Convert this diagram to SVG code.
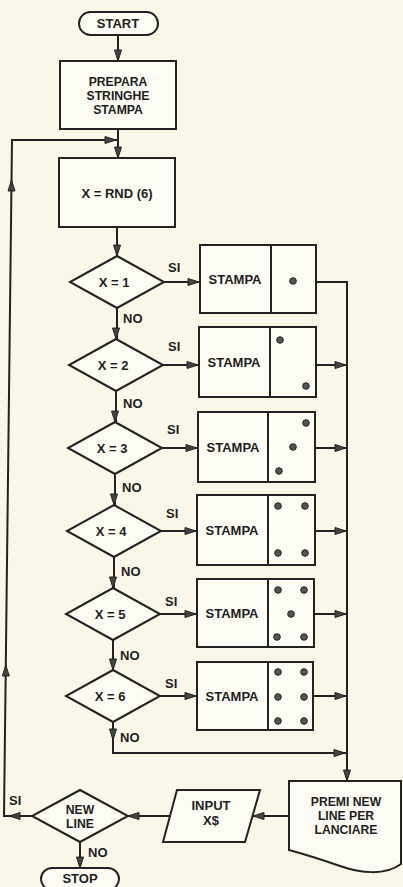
<svg xmlns="http://www.w3.org/2000/svg" xmlns:xlink="http://www.w3.org/1999/xlink" width="403" height="887" viewBox="0 0 403 887">
<style>
.s{fill:none;stroke:#222;stroke-width:2;stroke-linejoin:miter}
.n{fill:#fdfcf4;stroke:#222;stroke-width:2}
.t{font-family:"Liberation Sans",Arial,sans-serif;font-weight:bold;font-size:13px;fill:#1e1e1e;text-anchor:middle}
.m{font-size:12.2px}
.l{font-family:"Liberation Sans",Arial,sans-serif;font-weight:bold;font-size:13px;fill:#1e1e1e}
.d{fill:#555;stroke:#222;stroke-width:1}
</style>
<defs>
<path id="ah" d="M0,0 L-11,-3.5 L-11,3.5 Z" fill="#444" stroke="#222" stroke-width="1"/>
</defs>
<rect width="403" height="887" fill="#faf7e8"/>
<g id="connectors">
<path class="s" d="M118,35 V61 M118,129 V158 M117,227 V256"/>
<path class="s" d="M32,816 H4 L12,140 H117"/>
<path class="s" d="M117,308 V339 M116,391 V422 M115,474 V505 M114,557 V588 M113,640 V670"/>
<path class="s" d="M164,282 H200 M163,365 H199 M162,448 H198 M161,531 H197 M160,614 H197 M160,696 H197"/>
<path class="s" d="M316,282 H347 V781 M316,365 H347 M315,448 H347 M315,531 H347 M314,614 H347 M313,696 H347"/>
<path class="s" d="M113,722 V753 H347"/>
<path class="s" d="M289,816 H253 M170,816 H128 M80,842 V868"/>
<use xlink:href="#ah" transform="translate(118,61) rotate(90)"/>
<use xlink:href="#ah" transform="translate(118,158) rotate(90)"/>
<use xlink:href="#ah" transform="translate(116,140)"/>
<use xlink:href="#ah" transform="translate(11.5,180) rotate(-90)"/>
<use xlink:href="#ah" transform="translate(5.8,665) rotate(-90)"/>
<use xlink:href="#ah" transform="translate(9,816) rotate(180)"/>
<use xlink:href="#ah" transform="translate(117,256) rotate(90)"/>
<use xlink:href="#ah" transform="translate(116,339) rotate(90)"/>
<use xlink:href="#ah" transform="translate(115,422) rotate(90)"/>
<use xlink:href="#ah" transform="translate(114,505) rotate(90)"/>
<use xlink:href="#ah" transform="translate(113,588) rotate(90)"/>
<use xlink:href="#ah" transform="translate(113,670) rotate(90)"/>
<use xlink:href="#ah" transform="translate(199,282)"/>
<use xlink:href="#ah" transform="translate(198,365)"/>
<use xlink:href="#ah" transform="translate(197,448)"/>
<use xlink:href="#ah" transform="translate(196,531)"/>
<use xlink:href="#ah" transform="translate(196,614)"/>
<use xlink:href="#ah" transform="translate(196,696)"/>
<use xlink:href="#ah" transform="translate(346,365)"/>
<use xlink:href="#ah" transform="translate(346,448)"/>
<use xlink:href="#ah" transform="translate(346,531)"/>
<use xlink:href="#ah" transform="translate(346,614)"/>
<use xlink:href="#ah" transform="translate(346,696)"/>
<use xlink:href="#ah" transform="translate(113,740) rotate(90)"/>
<use xlink:href="#ah" transform="translate(345,753)"/>
<use xlink:href="#ah" transform="translate(347,781) rotate(90)"/>
<use xlink:href="#ah" transform="translate(253,816) rotate(180)"/>
<use xlink:href="#ah" transform="translate(128,816) rotate(180)"/>
<use xlink:href="#ah" transform="translate(80,868) rotate(90)"/>
<text class="l" x="168" y="272">SI</text>
<text class="l" x="168" y="351">SI</text>
<text class="l" x="167" y="434">SI</text>
<text class="l" x="166" y="518">SI</text>
<text class="l" x="165" y="606">SI</text>
<text class="l" x="165" y="688">SI</text>
<text class="l" x="123" y="323">NO</text>
<text class="l" x="123" y="408">NO</text>
<text class="l" x="122" y="492">NO</text>
<text class="l" x="121" y="576">NO</text>
<text class="l" x="120" y="660">NO</text>
<text class="l" x="120" y="742">NO</text>
<text class="l" x="9" y="805">SI</text>
<text class="l" x="88" y="857">NO</text>
</g>
<g id="start">
<rect class="n" x="79" y="12" width="79" height="23" rx="11.5"/>
<text class="t" x="118" y="28">START</text>
</g>
<g id="prepara">
<rect class="n" x="60" y="61" width="116" height="68"/>
<text class="t m" x="118" y="86">PREPARA</text>
<text class="t m" x="118" y="100">STRINGHE</text>
<text class="t m" x="118" y="114">STAMPA</text>
</g>
<g id="rnd">
<rect class="n" x="59" y="158" width="116" height="69"/>
<text class="t" x="117" y="198">X = RND (6)</text>
</g>
<g id="d1">
<polygon class="n" points="117,256 164,282 117,308 70,282"/>
<text class="t" x="114" y="287">X = 1</text>
</g>
<g id="d2">
<polygon class="n" points="116,339 163,365 116,391 69,365"/>
<text class="t" x="113" y="370">X = 2</text>
</g>
<g id="d3">
<polygon class="n" points="115,422 162,448 115,474 68,448"/>
<text class="t" x="112" y="453">X = 3</text>
</g>
<g id="d4">
<polygon class="n" points="114,505 161,531 114,557 67,531"/>
<text class="t" x="111" y="536">X = 4</text>
</g>
<g id="d5">
<polygon class="n" points="113,588 160,614 113,640 66,614"/>
<text class="t" x="110" y="619">X = 5</text>
</g>
<g id="d6">
<polygon class="n" points="113,670 160,696 113,722 66,696"/>
<text class="t" x="110" y="701">X = 6</text>
</g>
<g id="b1">
<rect class="n" x="200" y="245" width="116" height="68"/>
<line class="s" x1="271" y1="245" x2="271" y2="313"/>
<text class="t" x="235" y="284">STAMPA</text>
<circle class="d" cx="293" cy="281" r="3.3"/>
</g>
<g id="b2">
<rect class="n" x="199" y="327" width="117" height="70"/>
<line class="s" x1="270" y1="327" x2="270" y2="397"/>
<text class="t" x="234" y="367">STAMPA</text>
<circle class="d" cx="280" cy="340" r="3.3"/>
<circle class="d" cx="306" cy="386" r="3.3"/>
</g>
<g id="b3">
<rect class="n" x="198" y="412" width="117" height="70"/>
<line class="s" x1="268" y1="412" x2="268" y2="482"/>
<text class="t" x="233" y="452">STAMPA</text>
<circle class="d" cx="306" cy="423" r="3.3"/>
<circle class="d" cx="293" cy="447" r="3.3"/>
<circle class="d" cx="279" cy="471" r="3.3"/>
</g>
<g id="b4">
<rect class="n" x="197" y="495" width="118" height="70"/>
<line class="s" x1="268" y1="495" x2="268" y2="565"/>
<text class="t" x="232" y="535">STAMPA</text>
<circle class="d" cx="278" cy="506" r="3.3"/>
<circle class="d" cx="305" cy="506" r="3.3"/>
<circle class="d" cx="278" cy="553" r="3.3"/>
<circle class="d" cx="305" cy="553" r="3.3"/>
</g>
<g id="b5">
<rect class="n" x="197" y="579" width="117" height="68"/>
<line class="s" x1="268" y1="579" x2="268" y2="647"/>
<text class="t" x="232" y="618">STAMPA</text>
<circle class="d" cx="278" cy="590" r="3.3"/>
<circle class="d" cx="304" cy="590" r="3.3"/>
<circle class="d" cx="291" cy="614" r="3.3"/>
<circle class="d" cx="277" cy="637" r="3.3"/>
<circle class="d" cx="304" cy="637" r="3.3"/>
</g>
<g id="b6">
<rect class="n" x="197" y="662" width="116" height="68"/>
<line class="s" x1="268" y1="662" x2="268" y2="730"/>
<text class="t" x="232" y="701">STAMPA</text>
<circle class="d" cx="278" cy="672" r="3.3"/>
<circle class="d" cx="304" cy="672" r="3.3"/>
<circle class="d" cx="278" cy="697" r="3.3"/>
<circle class="d" cx="304" cy="697" r="3.3"/>
<circle class="d" cx="278" cy="721" r="3.3"/>
<circle class="d" cx="304" cy="721" r="3.3"/>
</g>
<g id="premi">
<path class="n" d="M289,781 H401 V864 C385,876 360,873 340,866 C320,859 300,853 289,850 Z"/>
<text class="t m" x="346" y="806">PREMI NEW</text>
<text class="t m" x="346" y="820">LINE PER</text>
<text class="t m" x="346" y="834">LANCIARE</text>
</g>
<g id="input">
<polygon class="n" points="177,790 260,790 245,842 163,842"/>
<text class="t" x="211" y="810">INPUT</text>
<text class="t" x="211" y="825">X$</text>
</g>
<g id="newline">
<polygon class="n" points="80,790 128,816 80,842 32,816"/>
<text class="t m" x="80" y="814">NEW</text>
<text class="t m" x="80" y="828">LINE</text>
</g>
<g id="stop">
<rect class="n" x="41" y="868" width="78" height="22" rx="11"/>
<text class="t" x="80" y="883">STOP</text>
</g>
</svg>
